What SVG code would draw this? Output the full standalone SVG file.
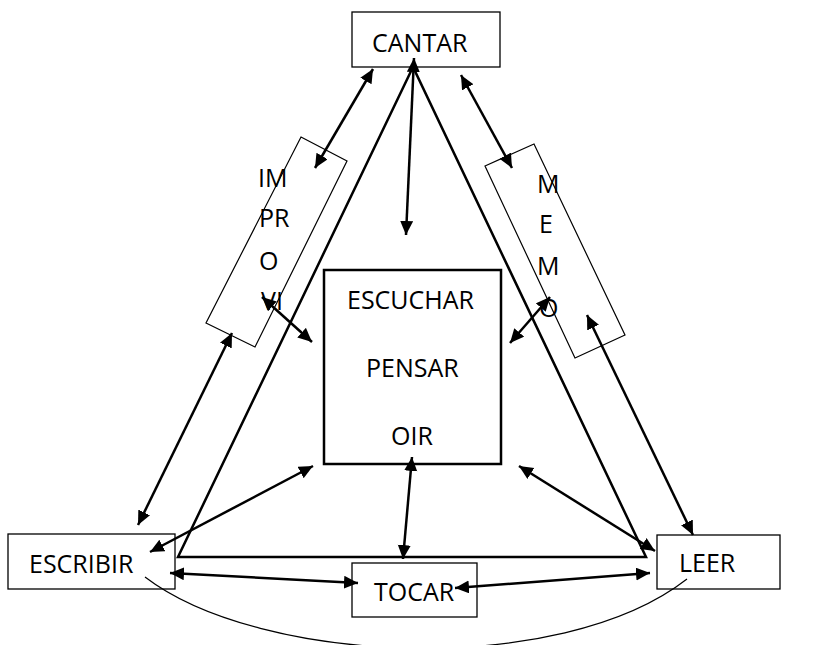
<svg xmlns="http://www.w3.org/2000/svg" width="820" height="645" viewBox="0 0 820 645">
<style>
.box{fill:#fff;stroke:#000;stroke-width:1.3}
.tbox{fill:none;stroke:#000;stroke-width:1.2}
.cbox{fill:#fff;stroke:#000;stroke-width:2.5}
.tri{fill:none;stroke:#000;stroke-width:2.5;stroke-linejoin:miter}
.t{font-family:"Open Sans","Liberation Sans",sans-serif;font-size:25px;fill:#000}
.a{fill:none;stroke:#000;stroke-width:2.5;marker-start:url(#h);marker-end:url(#h)}
.curve{fill:none;stroke:#000;stroke-width:1.2}
</style>
<defs>
<marker id="h" markerUnits="userSpaceOnUse" markerWidth="16" markerHeight="14" refX="14" refY="6.5" orient="auto-start-reverse">
<path d="M0,0 L14,6.5 L0,13 z" fill="#000"/>
</marker>
</defs>
<g id="triangle"><path class="tri" d="M413,67 L178,557 L646,557 Z"/></g>
<g id="cantar"><rect class="box" x="352" y="12" width="148" height="55"/><text class="t" x="372" y="52">CANTAR</text></g>
<g id="improvi"><polygon class="tbox" points="301,137 347,161 255,347 206,323"/>
<text class="t" x="258" y="187">IM</text><text class="t" x="259" y="227">PR</text><text class="t" x="259" y="270">O</text><text class="t" x="261" y="310">VI</text></g>
<g id="memo"><polygon class="tbox" points="485,166 534,144 625,335 575,358"/>
<text class="t" x="537" y="193">M</text><text class="t" x="539" y="233">E</text><text class="t" x="537" y="275">M</text><text class="t" x="539" y="317">O</text></g>
<g id="centro"><rect class="cbox" x="324" y="270" width="177" height="194"/>
<text class="t" x="347" y="309">ESCUCHAR</text><text class="t" x="366" y="377">PENSAR</text><text class="t" x="391" y="445">OIR</text></g>
<g id="escribir"><rect class="box" x="8" y="534" width="167" height="55"/><text class="t" x="29" y="573">ESCRIBIR</text></g>
<g id="tocar"><rect class="box" x="352" y="563" width="125" height="54"/><text class="t" x="374" y="601">TOCAR</text></g>
<g id="leer"><rect class="box" x="657" y="535" width="123" height="54"/><text class="t" x="679" y="572">LEER</text></g>
<g id="connectors">
<path class="curve" d="M145,577 C260,665 560,678 687,579"/>
<line class="a" x1="373" y1="69" x2="315" y2="168"/>
<line class="a" x1="414" y1="58" x2="406" y2="235"/>
<line class="a" x1="461" y1="75" x2="512" y2="168"/>
<line class="a" x1="232" y1="333" x2="138" y2="525"/>
<line class="a" x1="262" y1="297" x2="312" y2="342"/>
<line class="a" x1="550" y1="297" x2="510" y2="343"/>
<line class="a" x1="587" y1="315" x2="693" y2="535"/>
<line class="a" x1="313" y1="466" x2="150" y2="552"/>
<line class="a" x1="412" y1="457" x2="403" y2="559"/>
<line class="a" x1="519" y1="466" x2="655" y2="551"/>
<line class="a" x1="170" y1="573" x2="358" y2="583"/>
<line class="a" x1="455" y1="588" x2="650" y2="573"/>
</g>
</svg>
